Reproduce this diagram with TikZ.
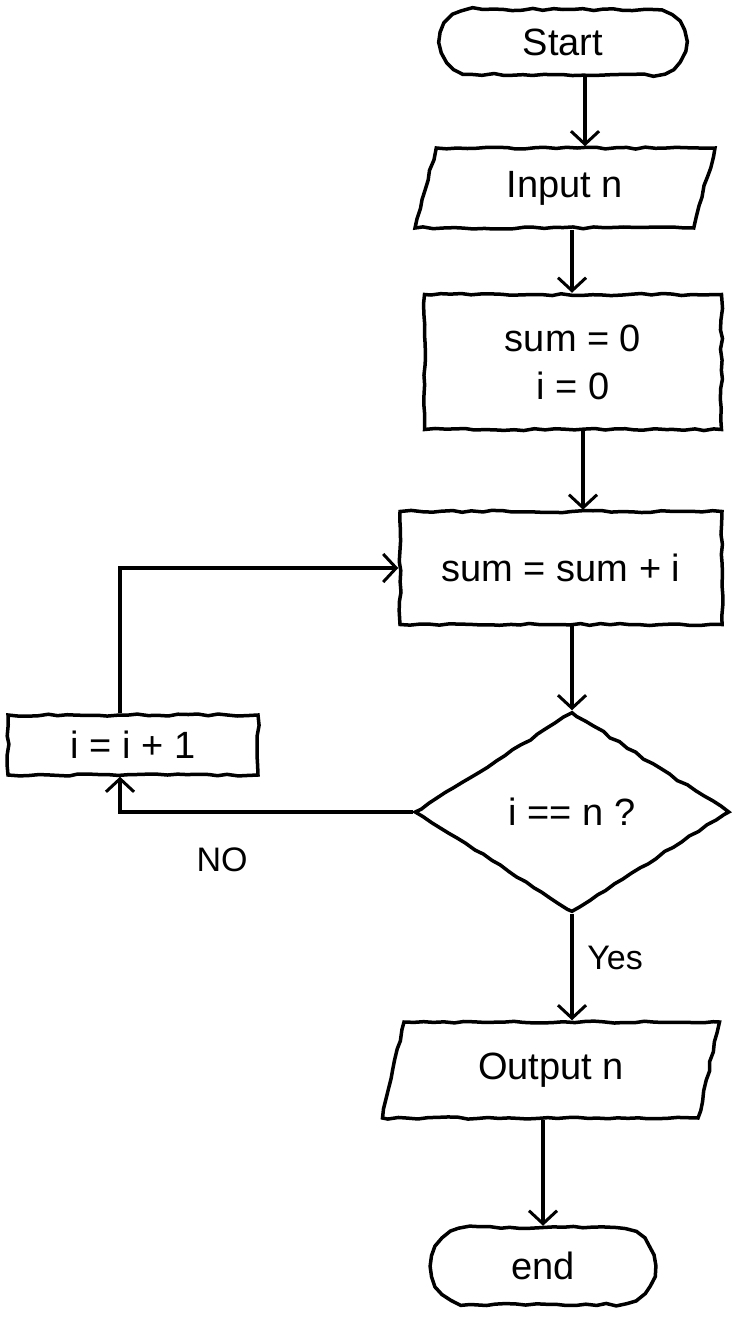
\documentclass[tikz,border=0pt]{standalone}
\usepackage{fontspec}
\setmainfont{Liberation Sans}
\usetikzlibrary{shapes.geometric,shapes.misc,arrows.meta,decorations.pathmorphing}
\begin{document}
\begin{tikzpicture}[x=1pt,y=-1pt,
  every node/.style={font=\fontsize{38}{48}\selectfont},
  sketch/.style={line width=3.5pt, decorate, decoration={random steps, segment length=10pt, amplitude=1.1pt}},
  box/.style={draw, rectangle, inner sep=0pt, sketch},
  term/.style={draw, rounded rectangle, inner sep=0pt, sketch},
  io/.style={draw, trapezium, trapezium left angle=58, trapezium right angle=122, trapezium stretches body, inner sep=0pt, sketch},
  cond/.style={draw, diamond, inner sep=0pt, sketch},
  arr/.style={line width=3.5pt, -{Straight Barb[length=13pt,width=28pt,line width=3pt]}},
  lbl/.style={font=\fontsize{34}{40}\selectfont}
]
\useasboundingbox (0,0) rectangle (745,1333);
\fill[white] (0,0) rectangle (745,1333);

\node[term, minimum width=245pt, minimum height=65pt] (start) at (563,42) {Start};
\node[io, minimum width=300pt, minimum height=80pt] (input) at (565,188) {Input n};
\node[box, minimum width=297pt, minimum height=135pt, align=center] (init) at (573,362) {sum = 0\\ i = 0};
\node[box, minimum width=322pt, minimum height=113pt] (upd) at (561,568) {sum = sum + i};
\node[cond, minimum width=315pt, minimum height=200pt] (dec) at (572,812) {i == n ?};
\node[box, minimum width=250pt, minimum height=60pt] (inc) at (133,745) {i = i + 1};
\node[io, minimum width=337pt, minimum height=96pt] (out) at (551,1070) {Output n};
\node[term, minimum width=223pt, minimum height=77pt] (end) at (543,1266) {end};

\node[lbl] (no) at (222,860) {NO};
\node[lbl] (yes) at (615,958) {Yes};

\draw[arr] ([xshift=22pt]start.south) -- ([xshift=22pt]start.south |- input.north);
\draw[arr] ([xshift=7pt]input.south) -- ([xshift=7pt]input.south |- init.north);
\draw[arr] ([xshift=10pt]init.south) -- ([xshift=10pt]init.south |- upd.north);
\draw[arr] (upd.south -| dec.north) -- (dec.north);
\draw[arr] (dec.south) -- (dec.south |- out.north);
\draw[arr] (out.south -| end.north) -- (end.north);
\draw[arr] (dec.west) -| ([xshift=-13pt]inc.south);
\draw[arr] ([xshift=-13pt]inc.north) |- (upd.west);
\end{tikzpicture}
\end{document}
